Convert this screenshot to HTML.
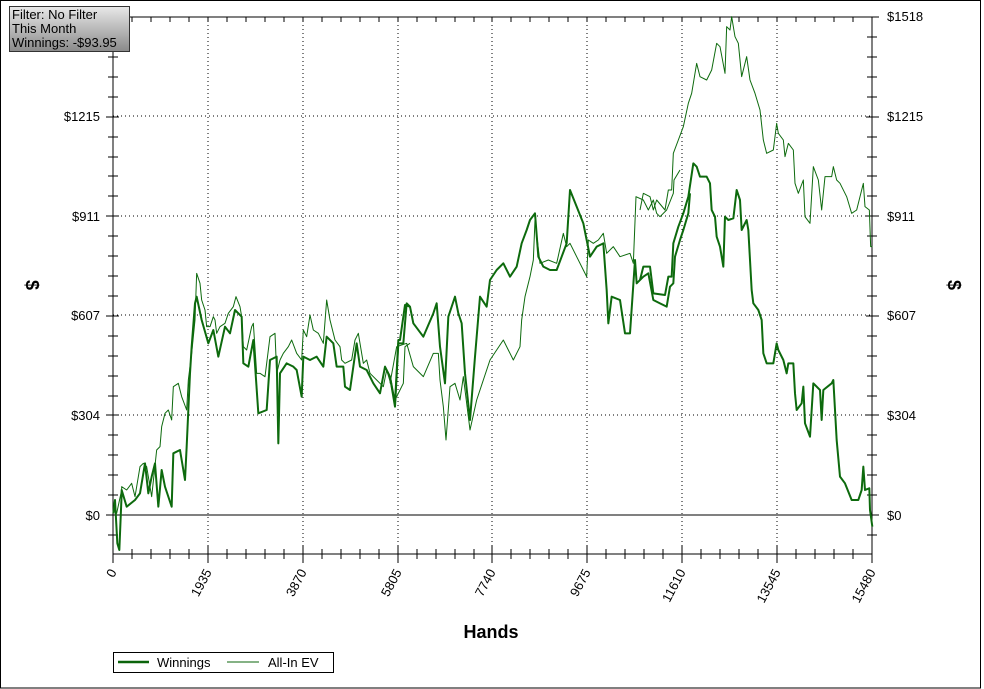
<!DOCTYPE html>
<html><head><meta charset="utf-8"><style>
html,body{margin:0;padding:0;background:#fff;}
svg{display:block;font-family:"Liberation Sans",sans-serif;}
</style></head><body>
<svg width="984" height="689" viewBox="0 0 984 689">
<defs><linearGradient id="gb" x1="0" y1="0" x2="0" y2="1"><stop offset="0" stop-color="#e8e8e8"/><stop offset="1" stop-color="#8a8a8a"/></linearGradient></defs>
<rect x="0.5" y="0.5" width="980" height="687.5" fill="#fff" stroke="#000"/>
<g stroke="#000" stroke-width="1" stroke-dasharray="1,3">
<line x1="208" y1="17" x2="208" y2="554"/><line x1="303" y1="17" x2="303" y2="554"/><line x1="398" y1="17" x2="398" y2="554"/><line x1="492" y1="17" x2="492" y2="554"/><line x1="587" y1="17" x2="587" y2="554"/><line x1="682" y1="17" x2="682" y2="554"/><line x1="777" y1="17" x2="777" y2="554"/>
<line x1="113" y1="116" x2="872" y2="116"/><line x1="113" y1="216" x2="872" y2="216"/><line x1="113" y1="315" x2="872" y2="315"/><line x1="113" y1="415" x2="872" y2="415"/>
</g>
<line x1="113" y1="515" x2="872" y2="515" stroke="#000"/>
<rect x="113" y="17" width="759" height="537" fill="none" stroke="#000"/>
<path stroke="#000" fill="none" d="
M113 546V563 M132 549V559 M151 549V559 M170 549V559 M189 549V559 M208 546V563 M227 549V559 M246 549V559 M265 549V559 M284 549V559 M303 546V563 M322 549V559 M341 549V559 M360 549V559 M379 549V559 M398 546V563 M417 549V559 M436 549V559 M455 549V559 M474 549V559 M492 546V563 M511 549V559 M530 549V559 M549 549V559 M568 549V559 M587 546V563 M606 549V559 M625 549V559 M644 549V559 M663 549V559 M682 546V563 M701 549V559 M720 549V559 M739 549V559 M758 549V559 M777 546V563 M796 549V559 M815 549V559 M834 549V559 M853 549V559 M872 546V563
M132 17V22 M151 17V22 M170 17V22 M189 17V22 M208 17V22 M227 17V22 M246 17V22 M265 17V22 M284 17V22 M303 17V22 M322 17V22 M341 17V22 M360 17V22 M379 17V22 M398 17V22 M417 17V22 M436 17V22 M455 17V22 M474 17V22 M492 17V22 M511 17V22 M530 17V22 M549 17V22 M568 17V22 M587 17V22 M606 17V22 M625 17V22 M644 17V22 M663 17V22 M682 17V22 M701 17V22 M720 17V22 M739 17V22 M758 17V22 M777 17V22 M796 17V22 M815 17V22 M834 17V22 M853 17V22
M108 535H118 M106 515H119 M108 495H118 M108 475H118 M108 455H118 M108 435H118 M106 415H119 M108 396H118 M108 376H118 M108 356H118 M108 336H118 M106 316H119 M108 296H118 M108 276H118 M108 256H118 M108 236H118 M106 216H119 M108 196H118 M108 176H118 M108 157H118 M108 137H118 M106 117H119 M108 97H118 M108 77H118 M108 57H118 M108 37H118 M106 17H119
M867 535H877 M866 515H879 M867 495H877 M867 475H877 M867 455H877 M867 435H877 M866 415H879 M867 396H877 M867 376H877 M867 356H877 M867 336H877 M866 316H879 M867 296H877 M867 276H877 M867 256H877 M867 236H877 M866 216H879 M867 196H877 M867 176H877 M867 157H877 M867 137H877 M866 117H879 M867 97H877 M867 77H877 M867 57H877 M867 37H877 M866 17H879"/>
<g font-size="13" fill="#000">
<text x="100" y="520" text-anchor="end">$0</text><text x="100" y="420" text-anchor="end">$304</text><text x="100" y="320" text-anchor="end">$607</text><text x="100" y="221" text-anchor="end">$911</text><text x="100" y="121" text-anchor="end">$1215</text>
<text x="887" y="520">$0</text><text x="887" y="420">$304</text><text x="887" y="320">$607</text><text x="887" y="221">$911</text><text x="887" y="121">$1215</text><text x="887" y="21">$1518</text>
</g>
<g font-size="13" fill="#000" text-anchor="end">
<text transform="translate(117,572) rotate(-62)">0</text>
<text transform="translate(212,572) rotate(-62)">1935</text>
<text transform="translate(307,572) rotate(-62)">3870</text>
<text transform="translate(402,572) rotate(-62)">5805</text>
<text transform="translate(496,572) rotate(-62)">7740</text>
<text transform="translate(591,572) rotate(-62)">9675</text>
<text transform="translate(686,572) rotate(-62)">11610</text>
<text transform="translate(781,572) rotate(-62)">13545</text>
<text transform="translate(876,572) rotate(-62)">15480</text>
</g>
<text x="491" y="638" font-size="18" font-weight="bold" text-anchor="middle">Hands</text>
<text transform="translate(26,285) rotate(90)" font-size="18" font-weight="bold" text-anchor="middle">$</text>
<text transform="translate(948,285) rotate(90)" font-size="18" font-weight="bold" text-anchor="middle">$</text>
<rect x="113.5" y="652.5" width="220" height="20" fill="#fff" stroke="#000"/>
<line x1="118" y1="662" x2="149" y2="662" stroke="#0b640b" stroke-width="2.5"/>
<text x="157" y="667" font-size="13">Winnings</text>
<line x1="227" y1="662" x2="259" y2="662" stroke="#0b640b" stroke-width="1"/>
<text x="268" y="667" font-size="13">All-In EV</text>
<g fill="none" stroke="#0d6a0d" stroke-linejoin="round">
<g transform="translate(110,260) scale(0.33333)"><polyline vector-effect="non-scaling-stroke" stroke-width="1" points="10,730 20,760 35,690 35,680 50,690 65,670 75,710 90,620 100,610 110,620 125,710 140,570 150,560 155,500 165,460 175,450 185,480 190,380 205,370 215,410 230,450 235,360 245,280 255,180 260,40 270,70 275,120 285,150 290,200 300,200 310,170 315,180 320,220 330,200 345,190 355,160 370,140 378,110 390,140 395,170 400,260 410,270 425,200 430,190 440,340 450,340 465,350 480,230 495,220 500,340 510,300 520,280 535,260 545,240 560,280 575,300 580,210 590,230 600,165 610,210 625,220 640,250 650,120 660,180 675,240 690,260 695,300 705,310 725,300 735,240 745,220 760,310 770,300 780,340 800,360 820,380 830,330 845,380 855,420 870,390 880,370 885,260 900,250"/></g>
<g transform="translate(390,180) scale(0.33333)"><polyline vector-effect="non-scaling-stroke" stroke-width="1" points="0,610 20,500 50,490 70,560 100,590 130,520 145,520 150,600 160,680 168,780 180,620 195,610 210,660 220,590 240,750 260,660 280,600 300,540 320,510 340,480 360,520 370,540 390,500 395,420 405,350 420,290 430,240 435,120 450,250 475,240 500,250 520,160 530,200 540,190 560,230 580,270 590,290 595,180 610,190 625,180 640,160 650,220 670,200 690,230 720,220 730,250 738,50 760,60 775,90 790,60 800,100 810,110 830,90 850,40 852,0 870,-30"/></g>
<g transform="translate(640,10) scale(0.33333)"><polyline vector-effect="non-scaling-stroke" stroke-width="1" points="0,600 10,550 30,560 40,600 50,570 75,600 85,540 95,540 100,430 115,390 130,350 145,280 155,250 165,190 170,160 180,200 200,210 215,180 230,100 240,110 255,190 260,50 270,60 275,20 285,80 295,100 305,200 320,140 330,210 345,250 360,300 370,390 380,430 400,420 410,340 415,370 430,390 435,440 445,400 460,420 465,520 475,550 490,510 495,620 510,640 520,470 535,510 545,600 555,500 575,500 580,470 590,510 600,520 620,560 635,610 650,600 670,520 675,590 688,600 692,710 697,710"/></g>
<g transform="translate(110,260) scale(0.33333)"><polyline vector-effect="non-scaling-stroke" stroke-width="2" points="10,760 15,720 22,850 28,870 35,700 35,690 50,740 75,720 90,700 105,610 115,700 125,650 135,610 145,740 155,630 165,680 175,710 185,740 190,580 210,570 225,660 230,560 235,450 240,340 245,260 255,130 260,110 275,180 295,250 310,210 325,290 345,200 360,220 375,150 395,170 400,310 415,320 430,240 445,460 470,450 480,300 500,290 505,550 510,340 530,310 550,320 560,330 575,410 580,290 600,300 620,290 640,320 650,230 670,250 680,320 700,320 705,380 720,390 740,250 750,320 770,330 790,370 810,400 825,320 840,350 855,430 865,240 870,240 885,135 900,140"/></g>
<g transform="translate(390,180) scale(0.33333)"><polyline vector-effect="non-scaling-stroke" stroke-width="2" points="0,590 15,680 25,490 40,490 50,370 60,380 70,430 100,470 130,400 140,370 150,500 165,610 175,410 185,380 195,350 205,400 215,430 225,580 240,720 255,530 270,350 290,380 300,300 320,270 340,250 360,290 380,260 395,190 410,150 420,120 435,100 445,230 460,260 480,270 500,270 515,230 530,190 540,30 560,80 580,130 590,180 600,230 620,200 640,190 650,330 655,430 665,350 690,360 705,460 720,460 735,240 740,310 760,290 775,280 790,360 810,370 830,380 840,320 850,310 855,230 870,180 880,150 895,100 900,40"/></g>
<g transform="translate(640,10) scale(0.33333)"><polyline vector-effect="non-scaling-stroke" stroke-width="2" points="0,810 10,770 30,770 40,850 75,855 85,800 95,800 100,700 115,650 130,610 145,560 160,460 170,470 180,500 200,500 210,520 215,600 225,620 230,680 240,710 250,770 255,620 265,630 280,625 290,540 300,570 305,660 320,630 325,660 335,840 340,880 355,900 365,930 370,1030 380,1060 400,1060 410,1000 415,1020 430,1050 440,1090 445,1060 460,1060 465,1150 470,1200 485,1180 490,1130 495,1240 510,1280 520,1120 540,1140 545,1230 550,1140 575,1120 580,1110 590,1290 600,1400 615,1420 635,1470 655,1470 665,1440 670,1370 675,1440 688,1435 690,1500 697,1550"/></g>
</g>
<rect x="9.5" y="6.5" width="120" height="45" fill="url(#gb)" stroke="#333"/>
<text x="12" y="19" font-size="13">Filter: No Filter</text>
<text x="12" y="33" font-size="13">This Month</text>
<text x="12" y="47" font-size="13">Winnings: -$93.95</text>
</svg>
</body></html>
